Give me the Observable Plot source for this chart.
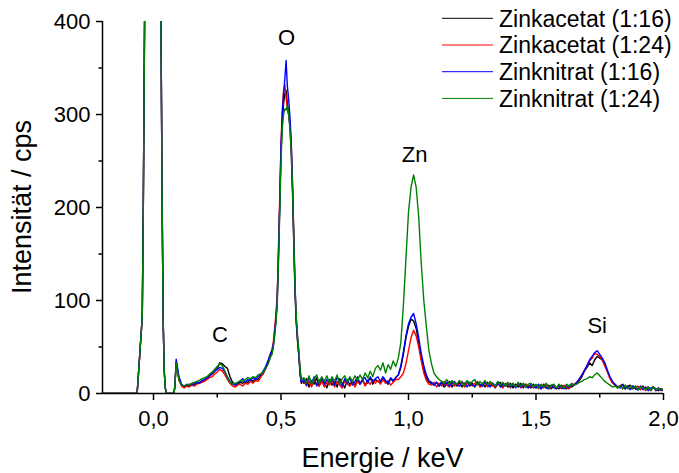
<!DOCTYPE html>
<html>
<head>
<meta charset="utf-8">
<script src="https://cdn.jsdelivr.net/npm/d3@7"></script>
<script src="https://cdn.jsdelivr.net/npm/@observablehq/plot@0.6"></script>
<style>
  body { margin: 0; background: #fff; }
  #chart svg { display: block; }
</style>
</head>
<body>
<div id="chart"></div>
<script>
// EDX-Spektren der ZnO-Schichten: Kanalenergie (keV) und Zählrate (cps)
const energie = [
  -0.2, -0.07, -0.064, -0.058, -0.052, -0.047, -0.044, -0.04, -0.035, -0.025, -0.012, 0, 0.012, 0.022, 0.029, 0.034, 0.038, 0.042, 0.046, 0.051, 0.08, 0.084, 0.089,
  0.10, 0.11, 0.12, 0.13, 0.14, 0.15, 0.16, 0.17, 0.18, 0.19, 0.20, 0.21, 0.22, 0.23, 0.24, 0.25, 0.26, 0.27, 0.28, 0.29,
  0.30, 0.31, 0.32, 0.33, 0.34, 0.35, 0.36, 0.37, 0.38, 0.39, 0.40, 0.41, 0.42, 0.43, 0.44, 0.45, 0.46,
  0.465, 0.47, 0.475, 0.48, 0.485, 0.49, 0.495, 0.50, 0.505, 0.51, 0.515, 0.52, 0.525, 0.53, 0.535, 0.54, 0.545, 0.55, 0.555, 0.56, 0.565, 0.57, 0.575, 0.58, 0.585,
  0.59, 0.60, 0.61, 0.62, 0.63, 0.64, 0.65, 0.66, 0.67, 0.68,
  0.69, 0.70, 0.71, 0.72, 0.73, 0.74, 0.75, 0.76, 0.77, 0.78,
  0.79, 0.80, 0.81, 0.82, 0.83, 0.84, 0.85, 0.86, 0.87, 0.88,
  0.89, 0.90, 0.91, 0.92, 0.93, 0.94, 0.95, 0.96, 0.97, 0.98,
  0.99, 1.00, 1.01, 1.02, 1.03, 1.04, 1.05, 1.06, 1.07, 1.08,
  1.09, 1.10, 1.11, 1.12, 1.13, 1.14, 1.15, 1.16, 1.17, 1.18,
  1.19, 1.20, 1.21, 1.22, 1.23, 1.24, 1.25, 1.26, 1.27, 1.28,
  1.29, 1.30, 1.31, 1.32, 1.33, 1.34, 1.35, 1.36, 1.37, 1.38,
  1.39, 1.40, 1.41, 1.42, 1.43, 1.44, 1.45, 1.46, 1.47, 1.48,
  1.49, 1.50, 1.51, 1.52, 1.53, 1.54, 1.55, 1.56, 1.57, 1.58,
  1.59, 1.60, 1.61, 1.62, 1.63, 1.64, 1.65, 1.66, 1.67, 1.68,
  1.69, 1.70, 1.71, 1.72, 1.73, 1.74, 1.75, 1.76, 1.77, 1.78,
  1.79, 1.80, 1.81, 1.82, 1.83, 1.84, 1.85, 1.86, 1.87, 1.88,
  1.89, 1.90, 1.91, 1.92, 1.93, 1.94, 1.95, 1.96, 1.97, 1.98,
  1.99, 2.00
];

const zinkacetat16 = [
  0, 0, 1, 25, 50, 70, 85, 200, 400, 900, 1500, 1800, 1500, 800, 410, 200, 78, 25, 6, 0, 0, 8, 34,
  15, 9, 7, 9, 8, 10, 9, 11, 12, 13, 15, 16, 19, 21, 24, 27, 33, 32, 29, 27,
  18, 12, 9, 10, 12, 11, 13, 12, 15, 13, 16, 15, 19, 21, 27, 33, 41,
  44, 52, 64, 78, 98, 145, 200, 258, 292, 312, 322, 326, 312, 300, 288, 262, 218, 162, 108, 75, 55, 40, 20, 11, 13,
  11, 16, 7, 14, 10, 17, 8, 15, 12, 6,
  15, 9, 14, 7, 16, 11, 6, 15, 9, 14,
  8, 16, 11, 15, 9, 14, 17, 10, 15, 13,
  12, 17, 13, 10, 16, 13, 17, 20, 28, 42,
  60, 72, 80, 78, 70, 55, 38, 26, 17, 12,
  11, 9, 12, 8, 11, 7, 10, 13, 7, 11,
  8, 12, 7, 11, 13, 8, 11, 7, 12, 8,
  11, 7, 12, 8, 11, 6, 10, 12, 7, 10,
  7, 11, 6, 10, 7, 11, 6, 10, 8, 6,
  10, 6, 9, 5, 10, 6, 9, 5, 9, 6,
  5, 9, 6, 5, 9, 7, 9, 11, 14, 18,
  24, 28, 33, 30, 36, 40, 38, 36, 30, 24,
  17, 12, 9, 7, 8, 10, 5, 8, 9, 5,
  8, 4, 7, 8, 4, 7, 3, 7, 5, 3,
  5, 4
];

const zinkacetat24 = [
  0, 0, 1, 25, 50, 70, 85, 200, 400, 900, 1500, 1800, 1500, 800, 410, 200, 78, 25, 6, 0, 0, 8, 33,
  14, 8, 6, 8, 7, 9, 8, 10, 11, 12, 13, 15, 17, 18, 21, 23, 26, 24, 20, 15,
  11, 8, 7, 9, 10, 8, 11, 10, 13, 11, 14, 13, 17, 22, 28, 35, 43,
  48, 55, 70, 85, 105, 155, 210, 268, 305, 325, 332, 318, 305, 300, 290, 270, 230, 175, 115, 80, 60, 44, 24, 14, 12,
  14, 8, 13, 7, 15, 10, 8, 13, 7, 12,
  9, 14, 7, 13, 9, 6, 14, 10, 8, 13,
  7, 13, 10, 14, 8, 13, 10, 15, 11, 14,
  10, 15, 11, 14, 9, 12, 15, 15, 18, 22,
  32, 46, 60, 68, 62, 50, 35, 22, 14, 10,
  9, 12, 7, 11, 8, 13, 9, 7, 12, 8,
  11, 8, 13, 7, 11, 12, 8, 11, 13, 7,
  8, 12, 7, 11, 8, 7, 11, 8, 6, 11,
  10, 6, 11, 7, 10, 6, 9, 10, 6, 9,
  6, 9, 5, 9, 6, 10, 5, 8, 9, 5,
  8, 5, 9, 6, 5, 9, 10, 12, 15, 20,
  25, 30, 35, 38, 43, 42, 40, 36, 30, 23,
  16, 11, 9, 6, 9, 5, 9, 6, 5, 8,
  5, 8, 4, 7, 3, 7, 4, 7, 3, 6,
  3, 5
];

const zinknitrat16 = [
  0, 0, 1, 25, 50, 70, 85, 200, 400, 900, 1500, 1800, 1500, 800, 410, 200, 78, 25, 6, 0, 0, 8, 37,
  18, 10, 8, 9, 10, 9, 11, 12, 11, 14, 15, 17, 19, 22, 24, 26, 28, 27, 23, 18,
  13, 10, 9, 11, 13, 16, 12, 15, 14, 17, 15, 18, 20, 24, 29, 36, 44,
  46, 53, 66, 80, 100, 150, 205, 265, 300, 322, 338, 358, 330, 317, 298, 272, 225, 168, 112, 78, 58, 42, 22, 12, 14,
  15, 9, 17, 11, 18, 8, 14, 17, 10, 15,
  11, 17, 9, 18, 12, 8, 16, 11, 17, 9,
  13, 18, 10, 15, 17, 11, 18, 13, 16, 18,
  13, 18, 14, 11, 17, 14, 17, 20, 30, 45,
  62, 75, 82, 86, 75, 60, 43, 30, 20, 14,
  12, 9, 12, 8, 13, 9, 12, 8, 11, 13,
  9, 8, 12, 10, 7, 12, 9, 8, 12, 10,
  8, 12, 9, 7, 11, 8, 12, 7, 11, 8,
  11, 7, 10, 6, 11, 7, 10, 7, 6, 10,
  7, 6, 10, 5, 9, 6, 5, 9, 6, 5,
  9, 6, 5, 9, 6, 10, 9, 12, 16, 20,
  25, 30, 36, 40, 44, 46, 42, 38, 33, 25,
  18, 13, 10, 7, 6, 9, 5, 8, 4, 8,
  5, 4, 8, 4, 7, 3, 6, 7, 3, 6,
  4, 3
];

const zinknitrat24 = [
  0, 0, 1, 25, 50, 70, 85, 200, 400, 900, 1500, 1800, 1500, 800, 410, 200, 78, 25, 6, 0, 0, 8, 33,
  14, 9, 8, 10, 9, 11, 12, 13, 14, 16, 17, 18, 21, 23, 26, 29, 32, 30, 24, 17,
  12, 10, 11, 12, 14, 13, 15, 17, 16, 18, 17, 20, 21, 23, 27, 32, 40,
  42, 50, 62, 76, 95, 140, 195, 250, 285, 300, 306, 305, 310, 300, 284, 262, 222, 170, 115, 82, 62, 46, 26, 15, 16,
  17, 11, 19, 10, 16, 20, 11, 18, 13, 19,
  11, 18, 13, 20, 10, 16, 19, 12, 18, 13,
  19, 14, 20, 15, 22, 17, 24, 18, 27, 30,
  25, 33, 22, 31, 26, 35, 29, 38, 55, 95,
  145, 195, 222, 235, 222, 190, 140, 100, 72, 46,
  32, 22, 18, 15, 13, 11, 15, 10, 14, 11,
  10, 14, 11, 9, 14, 10, 13, 15, 9, 13,
  10, 14, 9, 13, 10, 8, 13, 9, 12, 8,
  12, 8, 11, 7, 12, 8, 11, 7, 10, 11,
  7, 10, 6, 10, 7, 11, 6, 9, 10, 6,
  10, 7, 6, 10, 7, 11, 9, 10, 12, 13,
  15, 16, 18, 17, 20, 22, 19, 16, 13, 11,
  9, 7, 8, 6, 8, 5, 9, 5, 8, 5,
  8, 4, 7, 6, 4, 7, 4, 7, 4, 5,
  5, 4
];

const proben = ["Zinkacetat (1:16)", "Zinkacetat (1:24)", "Zinknitrat (1:16)", "Zinknitrat (1:24)"];
const farben = ["#000000", "#ff0000", "#0000ff", "#008000"];
const werte = [zinkacetat16, zinkacetat24, zinknitrat16, zinknitrat24];

// Elementlinien
const peakNamen = ["C", "O", "Zn", "Si"];
const peakEnergie = [0.261, 0.522, 1.024, 1.74];
const peakHoehe = [63, 382, 256, 73];

// Achsenteilung
const xHaupt = [0, 0.5, 1, 1.5, 2];
const xNeben = [0.25, 0.75, 1.25, 1.75];
const yHaupt = [0, 100, 200, 300, 400];
const yNeben = [50, 150, 250, 350];

const tabelle = proben.flatMap((name, k) =>
  energie.map((e, i) => ({energie: e, cps: werte[k][i], probe: name}))
);

const schrift = "'Liberation Sans', Arial, Helvetica, sans-serif";

const plot = Plot.plot({
  width: 679,
  height: 473,
  marginLeft: 102,
  marginRight: 16,
  marginTop: 21,
  marginBottom: 80,
  style: {fontFamily: schrift, fontSize: "22px", background: "#fff", color: "#000"},
  x: {domain: [-0.2, 2.0], label: null},
  y: {domain: [0, 400], label: null},
  color: {domain: proben, range: farben},
  marks: [
    Plot.line(tabelle, {x: "energie", y: "cps", z: "probe", stroke: "probe", strokeWidth: 1.4, clip: true}),
    Plot.ruleX([-0.2], {stroke: "#000", strokeWidth: 1.5}),
    Plot.ruleY([0], {stroke: "#000", strokeWidth: 1.5}),
    Plot.axisX(xHaupt, {
      tickSize: 7, tickPadding: 10, strokeWidth: 1.5, fontSize: 22, label: null,
      tickFormat: d => d.toFixed(1).replace(".", ",")
    }),
    Plot.axisX(xNeben, {tickSize: 4.5, strokeWidth: 1.5, text: null, label: null}),
    Plot.axisY(yHaupt, {tickSize: 6, tickPadding: 6, strokeWidth: 1.5, fontSize: 22, label: null, tickFormat: d => String(d)}),
    Plot.axisY(yNeben, {tickSize: 3.5, strokeWidth: 1.5, text: null, label: null}),
    Plot.text(peakNamen, {
      x: (d, i) => peakEnergie[i],
      y: (d, i) => peakHoehe[i],
      text: d => d,
      fontSize: 22,
      fill: "#000",
      textAnchor: "middle",
      lineAnchor: "middle"
    })
  ]
});

const svg = d3.select(plot);

// Achsentitel
svg.append("text")
  .attr("x", 382.5).attr("y", 467)
  .attr("text-anchor", "middle")
  .attr("font-family", schrift).attr("font-size", 27).attr("fill", "#000")
  .text("Energie / keV");

svg.append("text")
  .attr("transform", "translate(31,207) rotate(-90)")
  .attr("text-anchor", "middle")
  .attr("font-family", schrift).attr("font-size", 27).attr("fill", "#000")
  .text("Intensität / cps");

// Legende oben rechts
const legende = svg.append("g")
  .attr("font-family", schrift).attr("font-size", 23)
  .attr("text-anchor", "start");
proben.forEach((name, k) => {
  const y = 18.3 + k * 26.7;
  legende.append("line")
    .attr("x1", 442).attr("x2", 493).attr("y1", y).attr("y2", y)
    .attr("stroke", farben[k]).attr("stroke-width", 1);
  legende.append("text")
    .attr("x", 499).attr("y", y).attr("dy", "0.36em")
    .attr("text-anchor", "start")
    .attr("fill", "#000")
    .text(name);
});

document.getElementById("chart").append(plot);
</script>
</body>
</html>
